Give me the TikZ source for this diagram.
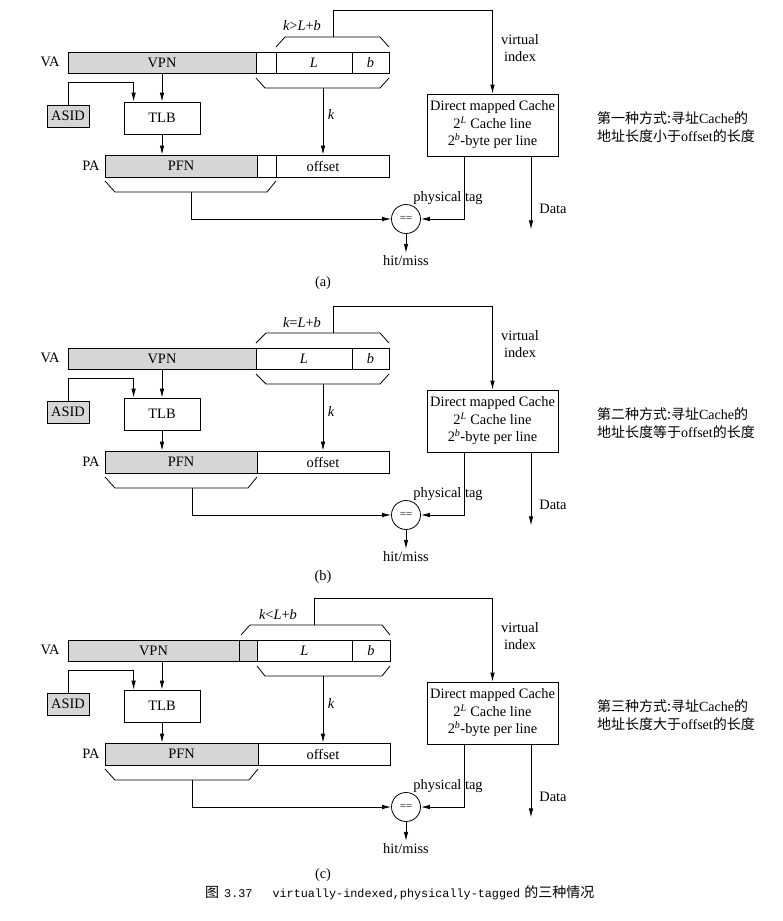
\documentclass[tikz,border=0pt]{standalone}
\usepackage{fontspec}
\setmainfont{Liberation Serif}
\newfontfamily\cjk{Noto Sans CJK SC}
\newfontfamily\capmono{Liberation Mono}
\usetikzlibrary{arrows.meta}
\definecolor{shade}{gray}{0.84}
\tikzset{
 ln/.style={line width=0.8pt},
 cell/.style={draw, line width=0.8pt, inner sep=0pt, anchor=center},
 gcell/.style={cell, fill=shade},
 arr/.style={line width=0.8pt, -{Latex[length=9pt,width=4.5pt]}},
 lbl/.style={inner sep=0pt},
}
\newcommand\cellat[7]{\node[#6, minimum width={(#3)-(#2)}, minimum height={(#5)-(#4)}] (#1) at ({((#2)+(#3))/2},{((#4)+(#5))/2}) {#7};}
\newcommand\common[3]{%
 \node[lbl] (#1va) at (50,62) {VA};
 \node[lbl] (#1pa) at (91,166) {PA};
 \node[gcell, minimum width=42, minimum height=22] (#1asid) at (68,116) {ASID};
 \node[cell, minimum width=76, minimum height=32] (#1tlb) at (162,118) {TLB};
 \node[cell, minimum width=131, minimum height=62, align=center] (#1cache) at (492.5,125)
   {Direct mapped Cache\\2\textsuperscript{\itshape L} Cache line\\2\textsuperscript{\itshape b}-byte per line};
 \node[draw, circle, line width=0.8pt, minimum size=29, inner sep=0pt] (#1cmp) at (406,219) {\fontsize{11}{11}\selectfont ==};
 \node[lbl, align=center] (#1vi) at (520,48) {virtual\\index};
 \node[lbl] (#1pt) at (448,198) {physical tag};
 \node[lbl] (#1data) at (553,209) {Data};
 \node[lbl] (#1hm) at (406,261) {hit/miss};
 \node[lbl] (#1k) at (331,115) {\itshape k};
 \node[lbl, anchor=west, align=left, font=\fontsize{14}{17.5}\selectfont] (#1note) at (597,127)
   {{\cjk 第#2种方式:寻址}Cache{\cjk 的}\\{\cjk 地址长度#3于}offset{\cjk 的长度}};
 \draw[arr] (#1asid.north) -- ++(0,-22) -| ([xshift=10pt]#1tlb.north west);
 \draw[arr] (#1tlb.north |- #1vpn.south) -- (#1tlb.north);
 \draw[arr] (#1tlb.south) -- (#1tlb.south |- #1pfn.north);
 \draw[arr] (#1ub) -- ++(0,-27) -| (#1cache.north);
 \draw[arr] (#1lb) -- (#1lb |- #1pfn.north);
 \draw[arr] (#1pb) |- (#1cmp.west);
 \draw[arr] ([xshift=-28.5pt]#1cache.south) |- (#1cmp.east);
 \draw[arr] ([xshift=38.5pt]#1cache.south) -- ++(0,73) coordinate (#1dend);
 \draw[arr] (#1cmp.south) -- ++(0,19);
}
\begin{document}
\begin{tikzpicture}[x=1pt, y=-1pt, font=\fontsize{14.4}{17.5}\selectfont]
\useasboundingbox[fill=white] (0,0) rectangle (783,921);

% ---------- (a)
\begin{scope}
 \cellat{avpn}{68}{256}{52}{73}{gcell}{VPN}
 \cellat{ax1}{256}{276}{52}{73}{cell}{}
 \cellat{aL}{276}{352}{52}{73}{cell}{\itshape L}
 \cellat{ab}{352}{389}{52}{73}{cell}{\itshape b}
 \cellat{apfn}{105}{257}{155}{177}{gcell}{PFN}
 \cellat{ax2}{257}{276}{155}{177}{cell}{}
 \cellat{aoff}{276}{389}{155}{177}{cell}{}
 \node[lbl] (aofft) at (323,166) {offset};
 \draw[ln] (276,47) -- (285,37) -- (380,37) -- (389,47);
 \draw[ln] (256,78) -- (265,88) -- (380,88) -- (389,78);
 \draw[ln] (105,181) -- (115,192) -- (267,192) -- (276,181);
 \coordinate (aub) at (333,37);
 \coordinate (alb) at (323,88);
 \coordinate (apb) at (191,192);
 \node[lbl] (acond) at (302,26) {{\itshape k}>{\itshape L}+{\itshape b}};
 \common{a}{一}{小}
\end{scope}

% ---------- (b)
\begin{scope}[shift={(0,296)}]
 \cellat{bvpn}{68}{256}{52}{73}{gcell}{VPN}
 \cellat{bL}{256}{352}{52}{73}{cell}{\itshape L}
 \cellat{bb}{352}{389}{52}{73}{cell}{\itshape b}
 \cellat{bpfn}{105}{257}{155}{177}{gcell}{PFN}
 \cellat{boff}{257}{389}{155}{177}{cell}{}
 \node[lbl] (bofft) at (323,166) {offset};
 \draw[ln] (256,47) -- (266,37) -- (380,37) -- (389,47);
 \draw[ln] (256,78) -- (266,88) -- (380,88) -- (389,78);
 \draw[ln] (105,181) -- (115,192) -- (248,192) -- (257,181);
 \coordinate (bub) at (333,37);
 \coordinate (blb) at (323,88);
 \coordinate (bpb) at (192,192);
 \node[lbl] (bcond) at (302,27) {{\itshape k}={\itshape L}+{\itshape b}};
 \common{b}{二}{等}
\end{scope}

% ---------- (c)
\begin{scope}[shift={(0,588)}]
 \cellat{cvpn}{68}{239}{52}{73}{gcell}{VPN}
 \cellat{cx1}{239}{257}{52}{73}{gcell}{}
 \cellat{cL}{257}{352}{52}{73}{cell}{\itshape L}
 \cellat{cb}{352}{390}{52}{73}{cell}{\itshape b}
 \cellat{cpfn}{105}{258}{155}{177}{gcell}{PFN}
 \cellat{coff}{258}{390}{155}{177}{cell}{}
 \node[lbl] (cofft) at (323,166) {offset};
 \draw[ln] (241,47) -- (250,37) -- (382,37) -- (390,47);
 \draw[ln] (257,78) -- (265,88) -- (382,88) -- (390,78);
 \draw[ln] (105,181) -- (115,192) -- (249,192) -- (258,181);
 \coordinate (cub) at (314,37);
 \coordinate (clb) at (323,88);
 \coordinate (cpb) at (192,192);
 \node[lbl] (ccond) at (278,27) {{\itshape k}<{\itshape L}+{\itshape b}};
 \common{c}{三}{大}
\end{scope}

\node[lbl] (capa) at (323,283) {(a)};
\node[lbl] (capb) at (323,577) {(b)};
\node[lbl] (capc) at (323,875) {(c)};
\node[lbl, anchor=west] (caption) at (205,893)
 {{\cjk\fontsize{14}{14}\selectfont 图}\hspace{5pt}{\capmono\fontsize{11.8}{14}\selectfont 3.37}\hspace{20pt}{\capmono\fontsize{11.8}{14}\selectfont virtually-indexed,physically-tagged}\hspace{4pt}{\cjk\fontsize{14}{14}\selectfont 的三种情况}};
\end{tikzpicture}
\end{document}
